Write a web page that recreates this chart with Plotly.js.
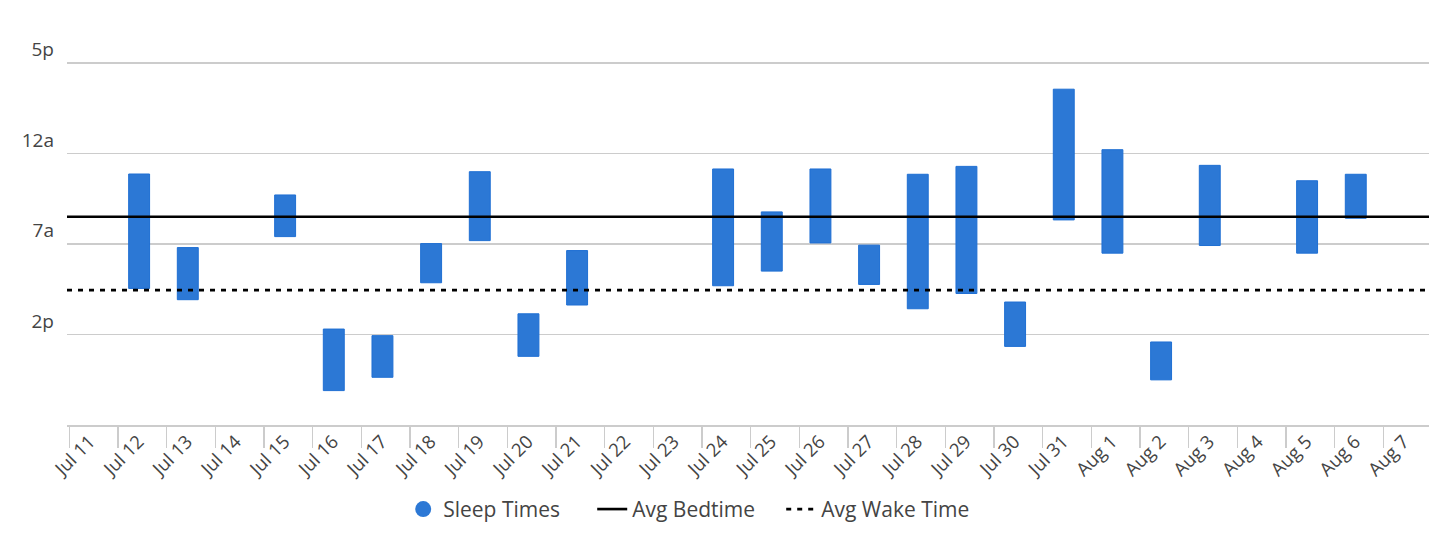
<!DOCTYPE html>
<html>
<head>
<meta charset="utf-8">
<script src="https://cdn.plot.ly/plotly-3.0.1.min.js"></script>
<style>html,body{margin:0;padding:0;background:#fff;}#chart{width:1456px;height:550px;}</style>
</head>
<body>
<div id="chart"></div>
<script>
// Categories (days)
const dates = ['Jul 11','Jul 12','Jul 13','Jul 14','Jul 15','Jul 16','Jul 17','Jul 18','Jul 19','Jul 20',
  'Jul 21','Jul 22','Jul 23','Jul 24','Jul 25','Jul 26','Jul 27','Jul 28','Jul 29','Jul 30',
  'Jul 31','Aug 1','Aug 2','Aug 3','Aug 4','Aug 5','Aug 6','Aug 7'];

// Sleep spans in hours on a running clock (17 = 5p, 24 = 12a, 31 = 7a, 38 = 2p, 45 = 9p)
const sleepStart = [null, 25.59, 31.28, null, 27.21, 37.58, 38.09, 30.97, 25.41, 36.40,
  31.51, null, null, 25.20, 28.52, 25.20, 31.09, 25.61, 25.00, 35.49,
  19.03, 23.71, 38.58, 24.92, null, 26.11, 25.61, null];
const sleepEnd = [null, 34.44, 35.31, null, 30.43, 42.34, 41.31, 34.00, 30.74, 39.69,
  35.72, null, null, 34.23, 33.10, 30.92, 34.13, 36.01, 34.83, 38.92,
  29.14, 31.71, 41.51, 31.12, null, 31.71, 29.01, null];

const avgBedtime = 28.89;
const avgWakeTime = 34.57;

// Y tick labels
const yTickVals = [17, 24, 31, 38];
const yTickText = ['5p', '12a', '7a', '2p'];

// ---- layout / style ----
const barOffset = 0.435;
const barWidth = 0.43;
const xRange = [-0.047, 27.94];
const blue = '#2c78d5';
const textColor = '#444444';
const font = '"Open Sans", "Noto Sans", sans-serif';

const idx = dates.map((d, i) => i);
const barX = [], barBase = [], barLen = [];
dates.forEach((d, i) => {
  if (sleepStart[i] !== null && sleepEnd[i] !== null) {
    barX.push(i + barOffset);
    barBase.push(sleepStart[i]);
    barLen.push(sleepEnd[i] - sleepStart[i]);
  }
});

const traces = [
  {
    type: 'bar', x: barX, y: barLen, base: barBase, width: barWidth,
    marker: {color: blue, line: {color: '#1f6fd3', width: 1}},
    showlegend: false, legendgroup: 'sleep', hoverinfo: 'skip'
  },
  {
    type: 'scatter', mode: 'markers', x: [null], y: [null], name: 'Sleep Times',
    legendgroup: 'sleep', marker: {symbol: 'circle', size: 20, color: blue}
  },
  {
    type: 'scatter', mode: 'lines', x: xRange, y: [avgBedtime, avgBedtime], name: 'Avg Bedtime',
    line: {color: '#000000', width: 2.6}, hoverinfo: 'skip'
  },
  {
    type: 'scatter', mode: 'lines', x: xRange, y: [avgWakeTime, avgWakeTime], name: 'Avg Wake Time',
    line: {color: '#000000', width: 2.6, dash: '5px,6px'}, hoverinfo: 'skip'
  }
];

const layout = {
  width: 1456, height: 550,
  margin: {l: 67, r: 27, t: 61, b: 125, pad: 0},
  paper_bgcolor: '#ffffff', plot_bgcolor: '#ffffff',
  font: {family: font, color: textColor, size: 19},
  showlegend: true,
  legend: {
    orientation: 'h', x: 0.455, xanchor: 'center', y: -0.232, yanchor: 'middle',
    font: {family: font, size: 21, color: textColor}, traceorder: 'normal',
    entrywidth: 144, entrywidthmode: 'pixels',
    itemclick: false, itemdoubleclick: false
  },
  xaxis: {
    range: xRange, tickmode: 'array',
    tickvals: idx.map(i => i + 0.42), ticktext: dates,
    tickangle: -45, ticks: '', ticklabelstandoff: -3,
    tickfont: {family: font, size: 18.5, color: textColor},
    showgrid: false, zeroline: false,
    showline: true, linecolor: '#cccccc', linewidth: 1.5,
    minor: {tickmode: 'array', tickvals: idx, ticks: 'outside', ticklen: 21, tickwidth: 1.5, tickcolor: '#cccccc', showgrid: false},
    fixedrange: true
  },
  yaxis: {
    range: [45, 16.85], tickmode: 'array', tickvals: yTickVals, ticktext: yTickText,
    ticks: '', ticklabelposition: 'outside top', ticklabelstandoff: 12,
    tickfont: {family: font, size: 19, color: textColor},
    showgrid: true, gridcolor: '#cccccc', gridwidth: 1.5,
    zeroline: false, showline: false, fixedrange: true
  },
  bargap: 0
};

Plotly.newPlot('chart', traces, layout, {displayModeBar: false, staticPlot: true});
</script>
</body>
</html>
